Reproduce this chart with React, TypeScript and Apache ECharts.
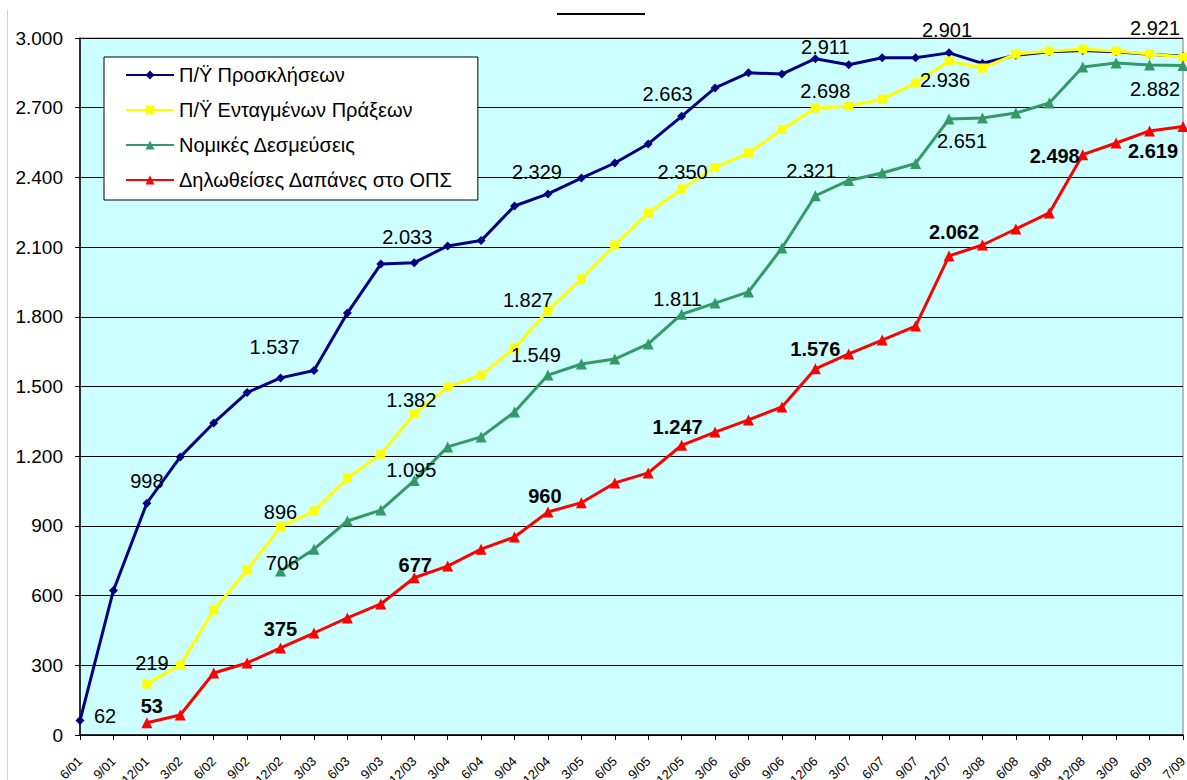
import React, { useEffect, useRef } from "react";
import * as echarts from "echarts";

const categories = ["6/01","9/01","12/01","3/02","6/02","9/02","12/02","3/03","6/03","9/03","12/03","3/04","6/04","9/04","12/04","3/05","6/05","9/05","12/05","3/06","6/06","9/06","12/06","3/07","6/07","9/07","12/07","3/08","6/08","9/08","12/08","3/09","6/09","7/09"];

const seriesNames = ["Π/Ϋ Προσκλήσεων", "Π/Ϋ Ενταγμένων Πράξεων", "Νομικές Δεσμεύσεις", "Δηλωθείσες Δαπάνες στο ΟΠΣ"];

const proskliseis = [62, 622, 998, 1197, 1343, 1474, 1537, 1569, 1816, 2027, 2033, 2105, 2128, 2277, 2329, 2397, 2462, 2544, 2663, 2785, 2850, 2845, 2911, 2885, 2915, 2915, 2936, 2891, 2926, 2941, 2946, 2941, 2930, 2921];
const entagmenes = [null, null, 219, 301, 538, 710, 896, 964, 1106, 1209, 1382, 1498, 1549, 1666, 1827, 1963, 2109, 2247, 2350, 2443, 2505, 2606, 2698, 2707, 2737, 2806, 2901, 2871, 2931, 2944, 2952, 2944, 2931, 2918];
const nomikes = [null, null, null, null, null, null, 706, 800, 921, 968, 1095, 1240, 1283, 1390, 1549, 1597, 1618, 1683, 1811, 1859, 1907, 2096, 2321, 2387, 2419, 2460, 2651, 2656, 2677, 2720, 2875, 2892, 2884, 2882];
const dapanes = [null, null, 53, 86, 267, 310, 375, 439, 504, 564, 677, 727, 800, 852, 960, 1000, 1085, 1128, 1247, 1304, 1356, 1412, 1576, 1640, 1700, 1760, 2062, 2109, 2178, 2247, 2498, 2548, 2600, 2619];

const yTicks = { min: 0, max: 3000, interval: 300 };

// label placement (index -> [dx, dy] from the point)
const blueLabels: Record<number, number[]> = { 0: [25, -5], 2: [0, -22], 6: [-6, -31], 10: [-7, -26], 14: [-11, -22], 18: [-14, -22], 22: [10, -12], 26: [-4, 27], 33: [-28, -28] };
const yellowLabels: Record<number, number[]> = { 2: [5, -21], 6: [0, -15], 10: [-3, -14], 14: [-20, -11], 18: [1, -17], 22: [10, -17], 26: [-2, -31] };
const greenLabels: Record<number, number[]> = { 6: [2, -8], 10: [-3, -11], 14: [-12, -20], 18: [-4, -15], 22: [-4, -25], 26: [13, 22], 33: [-28, 24] };
const redLabels: Record<number, number[]> = { 2: [5, -17], 6: [0, -19], 10: [1, -13], 14: [-3, -16], 18: [-4, -18], 22: [0, -20], 26: [5, -24], 30: [-28, 1], 33: [-30, 24] };

const FONT = "'Liberation Sans', Arial, sans-serif";
const fmt = (n: number) => String(n).replace(/\B(?=(\d{3})+(?!\d))/g, ".");

function buildData(values: (number | null)[], labels: Record<number, number[]>) {
  return values.map((v, i) => {
    if (v == null) return null;
    const off = labels[i];
    if (!off) return v;
    return { value: v, label: { show: true, position: "inside", offset: off } };
  });
}

function makeSeries(name: string, values: (number | null)[], labels: Record<number, number[]>, color: string, symbol: string, symbolSize: number, bold: boolean) {
  return {
    name,
    type: "line",
    data: buildData(values, labels),
    symbol,
    symbolSize,
    showAllSymbol: true,
    clip: false,
    lineStyle: { color, width: 3 },
    itemStyle: { color, borderWidth: 0 },
    label: {
      show: false,
      formatter: (p: any) => fmt(typeof p.value === "number" ? p.value : Number(p.value)),
      color: "#000",
      fontSize: 20,
      fontFamily: FONT,
      fontWeight: bold ? "bold" : "normal",
      textBorderWidth: 0,
      textShadowBlur: 0,
    },
    emphasis: { disabled: true },
  };
}

export default function App() {
  const ref = useRef<HTMLDivElement>(null);
  useEffect(() => {
    if (!ref.current) return;
    const chart = echarts.init(ref.current, undefined, { renderer: "svg" });
    chart.setOption({
      animation: false,
      backgroundColor: "#ffffff",
      textStyle: { fontFamily: FONT },
      grid: {
        left: 80, right: 4, top: 38, bottom: 45,
        show: true, backgroundColor: "#CCFFFF", borderColor: "#808080", borderWidth: 1,
        containLabel: false, outerBoundsMode: "none",
      },
      legend: {
        orient: "vertical",
        left: 104, top: 57,
        padding: [8, 25, 10, 21],
        itemGap: 15,
        itemWidth: 48,
        itemHeight: 11,
        backgroundColor: "#ffffff",
        borderColor: "#000",
        borderWidth: 1,
        borderRadius: 0,
        textStyle: { fontSize: 20, color: "#000", fontFamily: FONT },
        data: seriesNames,
      },
      xAxis: {
        type: "category",
        data: categories,
        boundaryGap: false,
        axisLine: { lineStyle: { color: "#000", width: 1.5 } },
        axisTick: { show: true, length: 5, interval: 0, lineStyle: { color: "#000" } },
        axisLabel: { interval: 0, rotate: 45, fontSize: 13, color: "#000", margin: 24, fontFamily: FONT },
        splitLine: { show: false },
      },
      yAxis: {
        type: "value",
        min: yTicks.min, max: yTicks.max, interval: yTicks.interval,
        axisLine: { show: true, lineStyle: { color: "#000", width: 1.5 } },
        axisTick: { show: true, length: 5, lineStyle: { color: "#000" } },
        axisLabel: { fontSize: 19, color: "#000", margin: 17, formatter: (v: number) => fmt(v), fontFamily: FONT },
        splitLine: { show: true, lineStyle: { color: "#000", width: 1 } },
      },
      graphic: [
        { type: "line", shape: { x1: 557, y1: 14, x2: 645, y2: 14 }, style: { stroke: "#000", lineWidth: 2 } },
        { type: "line", shape: { x1: 7.5, y1: 10, x2: 7.5, y2: 780 }, style: { stroke: "#d4d4d4", lineWidth: 1 } },
      ],
      series: [
        makeSeries(seriesNames[0], proskliseis, blueLabels, "#000080", "diamond", 9, false),
        makeSeries(seriesNames[1], entagmenes, yellowLabels, "#FFFF00", "rect", 9, false),
        makeSeries(seriesNames[2], nomikes, greenLabels, "#339966", "triangle", 11, false),
        makeSeries(seriesNames[3], dapanes, redLabels, "#FF0000", "triangle", 11, true),
      ],
    });
    return () => chart.dispose();
  }, []);
  return <div ref={ref} style={{ position: "fixed", left: 0, top: 0, width: 1187, height: 780 }} />;
}
